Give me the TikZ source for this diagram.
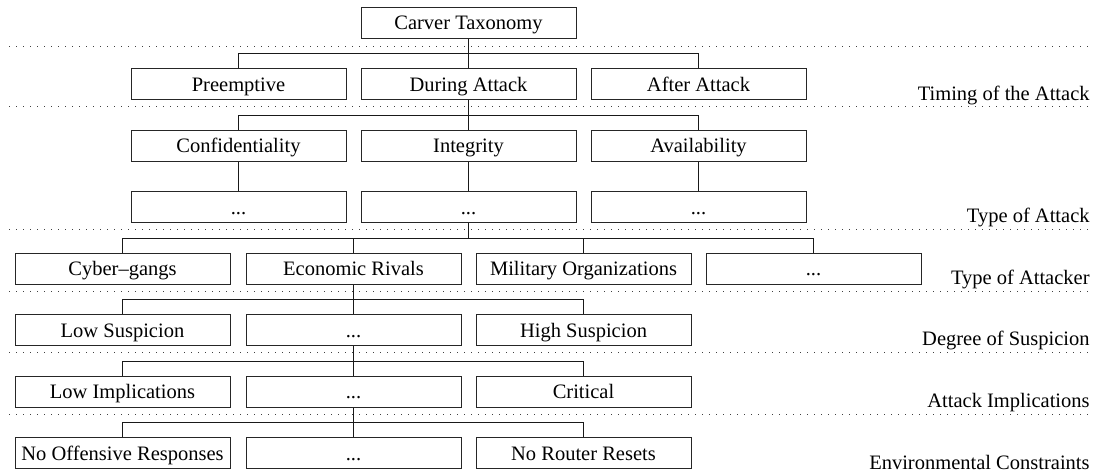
\documentclass[tikz,border=0pt]{standalone}
\usepackage{fontspec}
\setmainfont{Liberation Serif}
\begin{document}
\begin{tikzpicture}[x=0.5pt,y=-0.5pt,
  txt/.style={font=\fontsize{10.25}{12}\selectfont},
  box/.style={txt, draw=black!85, line width=0.5pt, rectangle,
    minimum width=107.5pt, minimum height=15.5pt, inner sep=0pt,
    text height=7.5pt, text depth=0.5pt},
  lab/.style={txt, anchor=base east, inner sep=0pt},
  link/.style={draw=black!90, line width=0.5pt},
  sep/.style={draw=black!75, line width=0.5pt, dash pattern=on 0.5pt off 3pt}]
\useasboundingbox (0,0) rectangle (1097,474);

% level separators
\foreach \y/\n in {47/s1,107/s2,230/s3,292/s4,353/s5,415/s6}
  \draw[sep] (9,\y) coordinate (\n w) -- (1094,\y) coordinate (\n e);

% bus heights
\coordinate (bus1) at (0,54);
\coordinate (bus2) at (0,115.5);
\coordinate (bus4) at (0,238.5);
\coordinate (bus5) at (0,300);
\coordinate (bus6) at (0,361.5);
\coordinate (bus7) at (0,423);

% root
\node[box] (root) at (468.5,23) {Carver Taxonomy};

% timing of the attack
\node[box] (pre)   at (238.5,84.5) {Preemptive};
\node[box] (dur)   at (468.5,84.5) {During Attack};
\node[box] (aft)   at (698.5,84.5) {After Attack};

% type of attack
\node[box] (conf)  at (238.5,146) {Confidentiality};
\node[box] (integ) at (468.5,146) {Integrity};
\node[box] (avail) at (698.5,146) {Availability};
\node[box] (confx) at (238.5,207.5) {...};
\node[box] (integx) at (468.5,207.5) {...};
\node[box] (availx) at (698.5,207.5) {...};

% type of attacker
\node[box] (cyber) at (122.5,269) {Cyber--gangs};
\node[box] (eco)   at (353.5,269) {Economic Rivals};
\node[box] (mil)   at (583.5,269) {Military Organizations};
\node[box] (attx)  at (813.5,269) {...};

% degree of suspicion
\node[box] (lows)  at (122.5,330.5) {Low Suspicion};
\node[box] (susx)  at (353.5,330.5) {...};
\node[box] (highs) at (583.5,330.5) {High Suspicion};

% attack implications
\node[box] (lowi)  at (122.5,392) {Low Implications};
\node[box] (impx)  at (353.5,392) {...};
\node[box] (crit)  at (583.5,392) {Critical};

% environmental constraints
\node[box] (nooff) at (122.5,453.5) {No Offensive Responses};
\node[box] (envx)  at (353.5,453.5) {...};
\node[box] (norr)  at (583.5,453.5) {No Router Resets};

% connectors
\draw[link] (root.south) -- (dur.north);
\draw[link] (pre.north) -- (pre.north |- bus1) -- (aft.north |- bus1) -- (aft.north);

\draw[link] (dur.south) -- (integ.north);
\draw[link] (conf.north) -- (conf.north |- bus2) -- (avail.north |- bus2) -- (avail.north);

\draw[link] (conf.south) -- (confx.north);
\draw[link] (integ.south) -- (integx.north);
\draw[link] (avail.south) -- (availx.north);

\draw[link] (integx.south) -- (integx.south |- bus4);
\draw[link] (cyber.north) -- (cyber.north |- bus4) -- (attx.north |- bus4) -- (attx.north);
\draw[link] (eco.north) -- (eco.north |- bus4);
\draw[link] (mil.north) -- (mil.north |- bus4);

\draw[link] (eco.south) -- (susx.north);
\draw[link] (lows.north) -- (lows.north |- bus5) -- (highs.north |- bus5) -- (highs.north);

\draw[link] (susx.south) -- (impx.north);
\draw[link] (lowi.north) -- (lowi.north |- bus6) -- (crit.north |- bus6) -- (crit.north);

\draw[link] (impx.south) -- (envx.north);
\draw[link] (nooff.north) -- (nooff.north |- bus7) -- (norr.north |- bus7) -- (norr.north);

% level names
\node[lab] (l1) at (1090,101) {Timing of the Attack};
\node[lab] (l2) at (1090,223) {Type of Attack};
\node[lab] (l3) at (1090,285) {Type of Attacker};
\node[lab] (l4) at (1090,346) {Degree of Suspicion};
\node[lab] (l5) at (1090,408) {Attack Implications};
\node[lab] (l6) at (1090,470) {Environmental Constraints};
\end{tikzpicture}
\end{document}
